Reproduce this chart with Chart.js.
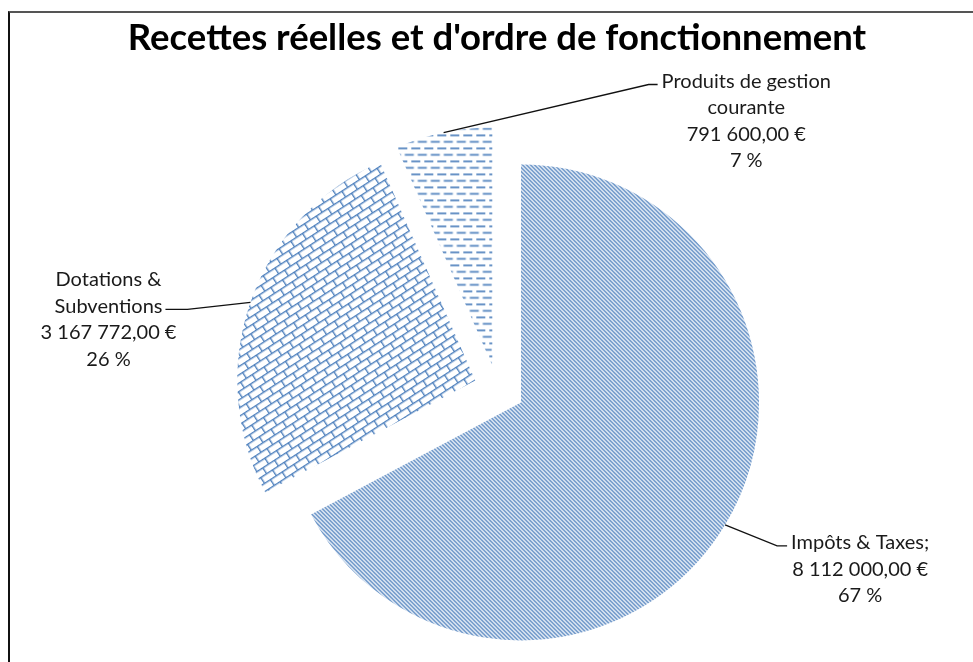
<!DOCTYPE html>
<html>
<head>
<meta charset="utf-8">
<script src="https://cdn.jsdelivr.net/npm/chart.js@4.4.0/dist/chart.umd.min.js"></script>
<style>
html, body { margin: 0; padding: 0; background: #fff; overflow: hidden; }
#cadre { position: absolute; left: 8px; top: 11px; right: -4px; bottom: -4px; border-left: 2px solid #111; border-top: 2px solid #555; }
#camembert { position: absolute; left: 0; top: 0; }
</style>
</head>
<body>
<div id="cadre"></div>
<canvas id="camembert" width="973" height="662"></canvas>
<script>
// données
var titre = "Recettes réelles et d'ordre de fonctionnement";
var categories = [['Impôts & Taxes;'], ['Dotations &', 'Subventions'], ['Produits de gestion', 'courante']];
var montants = [8112000, 3167772, 791600];

// style
var bleu = '#4f81bd';
var eclatement = [28, 23, 23];           // décalage de chaque part (px)
var renvois = [                          // traits de rappel des étiquettes
    { dx: 52, dy: 21, crochet: 10, ligne: 0 },
    { dx: -63, dy: 7, crochet: -22, ligne: 1 },
    { dx: 205, dy: -48, crochet: 9, ligne: 0 }
];
var policeEtiquette = '20px Lato';
var interligne = 26.5;

// motifs de remplissage
function motifRayures() {
    var c = document.createElement('canvas');
    c.width = 4; c.height = 4;
    var g = c.getContext('2d');
    g.strokeStyle = bleu;
    g.lineWidth = 1.4;
    g.beginPath();
    g.moveTo(-1, -1); g.lineTo(5, 5);
    g.moveTo(-1, 3); g.lineTo(1, 5);
    g.moveTo(3, -1); g.lineTo(5, 1);
    g.stroke();
    return g.createPattern(c, 'repeat');
}

function motifBriques() {
    var c = document.createElement('canvas');
    c.width = 14; c.height = 14;
    var g = c.getContext('2d');
    g.fillStyle = bleu;
    g.fillRect(0, 0, 14, 1.4);
    g.fillRect(0, 7, 14, 1.4);
    g.fillRect(0, 0, 1.4, 7);
    g.fillRect(7, 7, 1.4, 7);
    var p = g.createPattern(c, 'repeat');
    p.setTransform(new DOMMatrix().rotate(-33));
    return p;
}

function motifTirets() {
    var c = document.createElement('canvas');
    c.width = 13; c.height = 13;
    var g = c.getContext('2d');
    g.fillStyle = bleu;
    g.fillRect(0, 1, 9, 1.7);
    g.fillRect(6.5, 7.5, 9, 1.7);
    g.fillRect(-6.5, 7.5, 9, 1.7);
    return g.createPattern(c, 'repeat');
}

function formatEuro(v) {
    var parts = v.toFixed(2).split('.');
    var entier = parts[0].replace(/\B(?=(\d{3})+(?!\d))/g, ' ');
    return entier + ',' + parts[1] + ' €';
}

// parts éclatées : chaque arc est décalé le long de sa bissectrice
var partsEclatees = {
    id: 'partsEclatees',
    beforeDatasetDraw: function(chart, args) {
        var ctx = chart.ctx;
        args.meta.data.forEach(function(arc, i) {
            var mid = (arc.startAngle + arc.endAngle) / 2;
            ctx.save();
            ctx.translate(Math.cos(mid) * eclatement[i], Math.sin(mid) * eclatement[i]);
            arc.draw(ctx);
            ctx.restore();
        });
        return false;
    }
};

// étiquettes avec traits de rappel
var etiquettes = {
    id: 'etiquettes',
    afterDatasetsDraw: function(chart) {
        var ctx = chart.ctx;
        var meta = chart.getDatasetMeta(0);
        var total = montants.reduce(function(a, b) { return a + b; }, 0);
        ctx.save();
        ctx.font = policeEtiquette;
        ctx.textAlign = 'center';
        ctx.textBaseline = 'middle';
        ctx.fillStyle = '#1a1a1a';
        ctx.strokeStyle = '#111';
        ctx.lineWidth = 1.3;
        meta.data.forEach(function(arc, i) {
            var mid = (arc.startAngle + arc.endAngle) / 2;
            var d = eclatement[i] + arc.outerRadius;
            var ax = arc.x + Math.cos(mid) * d;
            var ay = arc.y + Math.sin(mid) * d;
            var r = renvois[i];
            var ex = ax + r.dx, ey = ay + r.dy;
            var hx = ex + r.crochet;
            ctx.beginPath();
            ctx.moveTo(ax, ay);
            ctx.lineTo(ex, ey);
            ctx.lineTo(hx, ey);
            ctx.stroke();
            var pct = Math.round(montants[i] / total * 100);
            var lignes = categories[i].concat([formatEuro(montants[i]), pct + ' %']);
            var w = ctx.measureText(lignes[r.ligne]).width;
            var xc = r.crochet > 0 ? hx + 4 + w / 2 : hx - 3 - w / 2;
            lignes.forEach(function(t, k) {
                ctx.fillText(t, xc, ey - 3 + (k - r.ligne) * interligne);
            });
        });
        ctx.restore();
    }
};

var ctx = document.getElementById('camembert').getContext('2d');
var camembert = new Chart(ctx, {
    type: 'pie',
    data: {
        labels: categories,
        datasets: [{
            data: montants,
            backgroundColor: [motifRayures(), motifBriques(), motifTirets()],
            borderWidth: 0
        }]
    },
    options: {
        responsive: false,
        animation: false,
        devicePixelRatio: 1,
        radius: 238,
        layout: { padding: { left: 21, right: 0, top: 0, bottom: 0 } },
        events: [],
        plugins: {
            legend: { display: false },
            tooltip: { enabled: false },
            title: {
                display: true,
                text: titre,
                color: '#000',
                font: { family: 'Lato', size: 36.5, weight: 'bold', lineHeight: 1.2 },
                padding: { top: 16, bottom: 54.2 }
            }
        }
    },
    plugins: [partsEclatees, etiquettes]
});
</script>
</body>
</html>
